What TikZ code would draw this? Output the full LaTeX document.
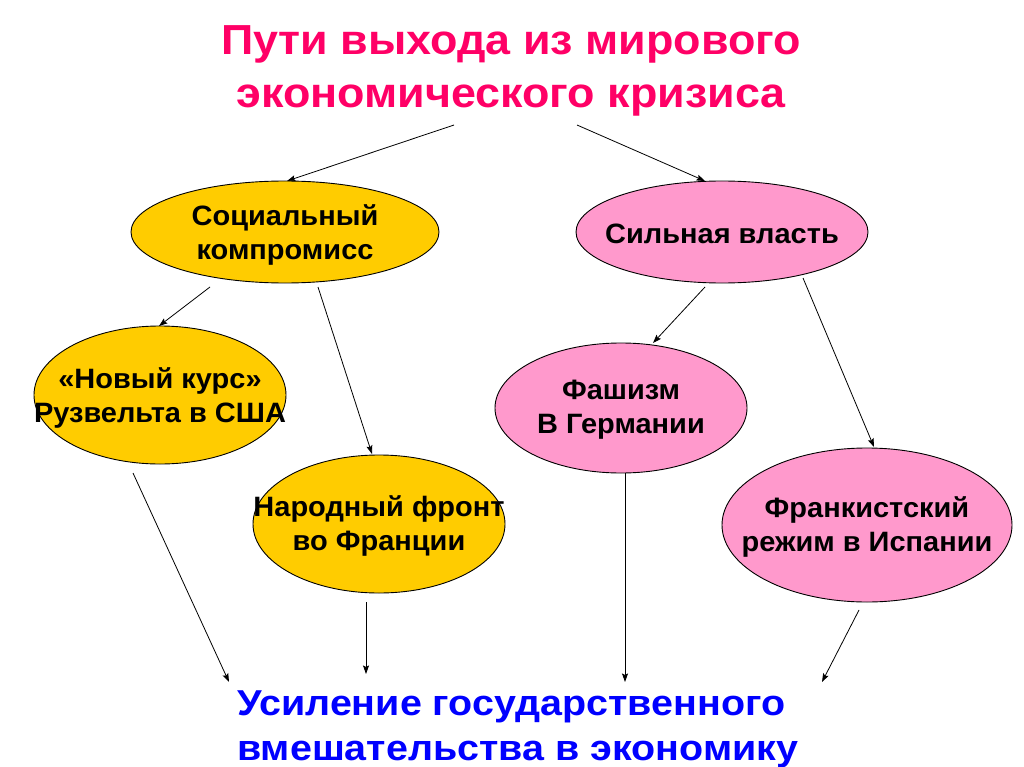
\documentclass[tikz,border=0pt]{standalone}
\usepackage{fontspec}
\setmainfont{Liberation Sans}
\usetikzlibrary{shapes.geometric,arrows.meta}
\definecolor{titlepink}{HTML}{FF0066}
\definecolor{ellyellow}{HTML}{FFCC00}
\definecolor{ellpink}{HTML}{FF99CC}
\definecolor{bottomblue}{HTML}{0000FF}
\newcommand{\wx}[2]{\scalebox{#1}[1]{#2}}
\newcommand{\et}[1]{\wx{1.035}{#1}}
\tikzset{
  ell/.style={ellipse, draw=black, line width=0.9pt, inner sep=0pt},
  yell/.style={ell, fill=ellyellow},
  pell/.style={ell, fill=ellpink},
  etext/.style={align=center, font=\fontsize{28}{34}\selectfont\bfseries, inner sep=0pt},
  arr/.style={draw=black, line width=0.8pt, -{Stealth[length=8.5pt,width=6pt,inset=1.5pt]}},
}
\begin{document}
\begin{tikzpicture}[x=1pt,y=-1pt]
\useasboundingbox (0,0) rectangle (1024,767);
\fill[white] (0,0) rectangle (1024,767);

% title
\node[align=center, text=titlepink, font=\fontsize{42}{53}\selectfont\bfseries, inner sep=0pt] (title) at (511,71) {\wx{1.068}{Пути выхода из мирового}\\\wx{1.068}{экономического кризиса}};

% ellipses
\node[yell, minimum width=308pt, minimum height=102pt] (soc) at (285,232) {};
\node[etext] at ([yshift=-3pt]soc) {\et{Социальный}\\\et{компромисс}};
\node[pell, minimum width=292pt, minimum height=102pt] (sil) at (722,232) {};
\node[etext] at ([yshift=-2pt]sil) {\et{Сильная власть}};
\node[yell, minimum width=252pt, minimum height=138pt] (novy) at (160,395) {};
\node[etext] at ([yshift=-3pt]novy) {\et{«Новый курс»}\\\et{Рузвельта в США}};
\node[yell, minimum width=252pt, minimum height=138pt] (nar) at (379,524) {};
\node[etext] at ([yshift=-2pt]nar) {\et{Народный фронт}\\\et{во Франции}};
\node[pell, minimum width=252pt, minimum height=130pt] (fash) at (621,408) {};
\node[etext] at ([yshift=-2pt]fash) {\et{Фашизм}\\\et{В Германии}};
\node[pell, minimum width=290pt, minimum height=154pt] (fr) at (867,525) {};
\node[etext] at ([yshift=-2pt]fr) {\et{Франкистский}\\\et{режим в Испании}};

% bottom text
\node[align=left, text=bottomblue, font=\fontsize{36}{45}\selectfont\bfseries, inner sep=0pt, anchor=west] (bottom) at (237,729) {\wx{1.096}{Усиление государственного}\\\wx{1.096}{вмешательства в экономику}};

% arrows from title
\draw[arr] ([shift={(-57,54)}]title.center) -- ([shift={(2,-51)}]soc.center);
\draw[arr] ([shift={(66,54)}]title.center) -- ([shift={(-17,-51)}]sil.center);
% from soc
\draw[arr] ([shift={(-75,55)}]soc.center) -- ([shift={(-1,-69)}]novy.center);
\draw[arr] ([shift={(33,55)}]soc.center) -- ([shift={(-7,-70)}]nar.center);
% from sil
\draw[arr] ([shift={(-17,55)}]sil.center) -- ([shift={(32,-65)}]fash.center);
\draw[arr] ([shift={(81,46)}]sil.center) -- ([shift={(7,-78)}]fr.center);
% to bottom
\coordinate (b1) at ([shift={(-8,-47)}]bottom.west);
\coordinate (b2) at ([shift={(129,-55)}]bottom.west);
\coordinate (b3) at ([shift={(388,-47)}]bottom.west);
\coordinate (b4) at ([shift={(585,-47)}]bottom.west);
\draw[arr] ([shift={(-27,78)}]novy.center) -- (b1);
\draw[arr] ([shift={(-13,78)}]nar.center) -- (b2);
\draw[arr] ([shift={(4,65)}]fash.center) -- (b3);
\draw[arr] ([shift={(-8,85)}]fr.center) -- (b4);
\end{tikzpicture}
\end{document}
